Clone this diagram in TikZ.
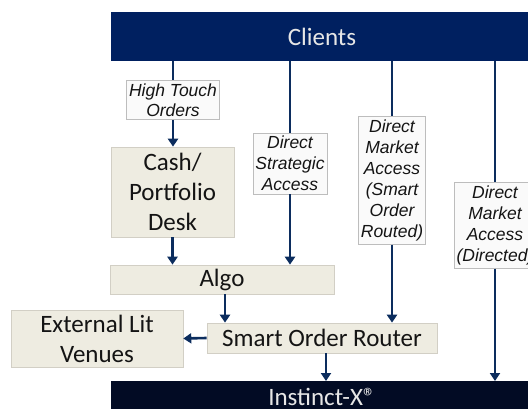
\documentclass[tikz,border=0pt]{standalone}
\usepackage{fontspec}
\setmainfont{Carlito}
\newfontfamily\lblfont{Liberation Sans}
\usetikzlibrary{arrows.meta}
\definecolor{clientBlue}{HTML}{002060}
\definecolor{inkNavy}{HTML}{020B24}
\definecolor{flowBlue}{HTML}{0C2D5E}
\definecolor{barText}{HTML}{E6E6E6}
\definecolor{tan}{HTML}{EEECE1}
\definecolor{tanEdge}{HTML}{D2CFC5}
\definecolor{boxText}{HTML}{141414}
\definecolor{tagFill}{HTML}{FAFAFA}
\definecolor{tagEdge}{HTML}{BDBDBD}
\tikzset{
  bar/.style={anchor=north, inner xsep=0pt, minimum width=422pt, text height=17pt, text depth=0pt, inner ysep=16pt, text=barText, font=\fontsize{25}{30}\selectfont},
  deskbox/.style={draw=tanEdge, line width=0.6pt, fill=tan, text=boxText, font=\fontsize{25}{30}\selectfont, align=center, inner sep=0pt},
  tag/.style={draw=tagEdge, line width=0.8pt, fill=tagFill, text=boxText, font=\lblfont\itshape\fontsize{17.5}{21}\selectfont, align=center, inner xsep=2.5pt, inner ysep=3pt},
  link/.style={draw=flowBlue, line width=2.6pt},
  flow/.style={link, -{Triangle[length=8pt,width=10pt]}}
}
\begin{document}
\begin{tikzpicture}[x=1pt,y=-1pt]
\useasboundingbox (0,0) rectangle (528,409);
\node[bar, fill=clientBlue] (clients) at (322,12) {Clients};
\node[bar, fill=inkNavy, inner ysep=7pt, text depth=30pt] (instinct) at (322,381) {Instinct-X®};
\node[tag, font=\lblfont\itshape\fontsize{17.5}{20}\selectfont] (hto) at (173,100) {High Touch\\Orders};
\node[tag] (dsa) at (290,163.5) {Direct\\Strategic\\Access};
\node[tag] (dmas) at (392,180.5) {Direct\\Market\\Access\\(Smart\\Order\\Routed)};
\node[tag] (dmad) at (495,225.5) {Direct\\Market\\Access\\(Directed)};
\node[deskbox, minimum width=123pt, minimum height=90pt] (cash) at (172.5,192) {Cash/\\Portfolio\\Desk};
\node[deskbox, minimum width=224pt, minimum height=29pt] (algo) at (222,279.5) {Algo};
\node[deskbox, minimum width=172pt, minimum height=57pt] (venues) at (97,338.5) {External Lit\\Venues};
\node[deskbox, minimum width=230pt, minimum height=30pt] (sor) at (322,338) {Smart Order Router};
\draw[link] (clients.south -| hto) -- (hto.north);
\draw[flow] (hto.south) -- (hto.south |- cash.north);
\draw[flow] (cash.south) -- (cash.south |- algo.north);
\draw[link] (clients.south -| dsa) -- (dsa.north);
\draw[flow] (dsa.south) -- (dsa.south |- algo.north);
\draw[link] (clients.south -| dmas) -- (dmas.north);
\draw[flow] (dmas.south) -- (dmas.south |- sor.north);
\draw[link] (clients.south -| dmad) -- (dmad.north);
\draw[flow] (dmad.south) -- (dmad.south |- instinct.north);
\draw[flow] ([xshift=3pt]algo.south) -- ([xshift=3pt]algo.south |- sor.north);
\draw[flow] (sor.west) -- (venues.east);
\draw[flow] ([xshift=4pt]sor.south) -- ([xshift=4pt]sor.south |- instinct.north);
\end{tikzpicture}
\end{document}
